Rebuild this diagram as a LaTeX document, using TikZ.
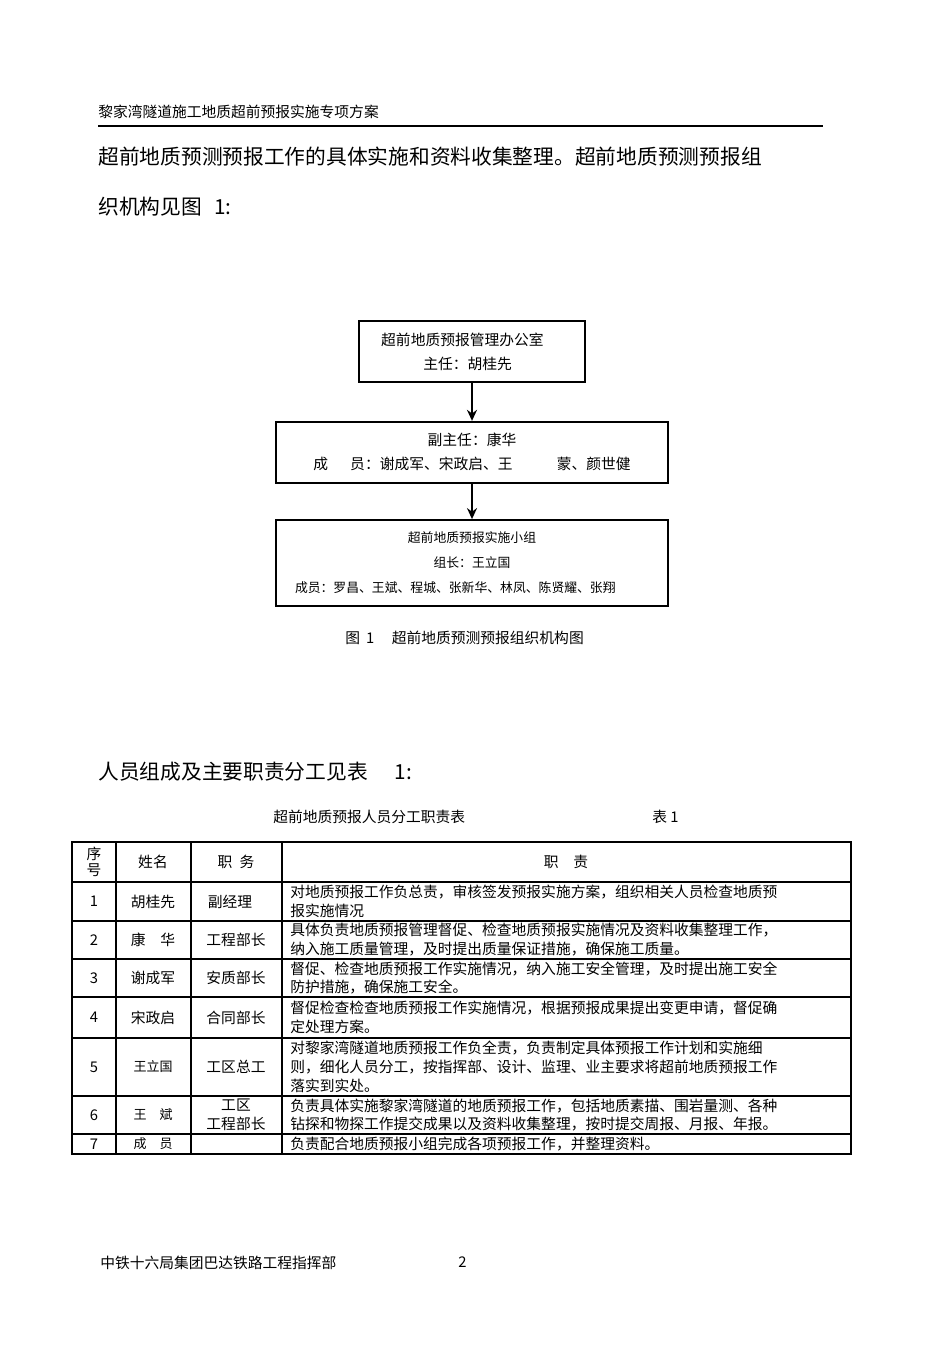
\documentclass[tikz,border=0pt]{standalone}
\usepackage{fontspec}
\setmainfont{Noto Sans CJK SC}
\usetikzlibrary{positioning,arrows.meta}

\begin{document}
\begin{tikzpicture}[
        x=0.02cm, y=-0.02cm,
        node distance=0.76cm,
        box/.style={
            draw,
            line width=1pt,
            align=center,
            inner sep=0pt,
            minimum height=1.22cm
        },
        arr/.style={-{Stealth[length=2.2mm, width=2mm]}, line width=1.1pt},
        rule/.style={line width=0.6pt},
        txt/.style={inner sep=0pt, anchor=west},
        big/.style={font=\fontsize{11.8}{14}\selectfont},
        mid/.style={font=\fontsize{8.4}{13.6}\selectfont},
        sml/.style={font=\fontsize{7.3}{14.2}\selectfont},
        cell/.style={inner sep=0pt, align=center, font=\fontsize{8.4}{10.8}\selectfont},
        smallcell/.style={inner sep=0pt, align=center, font=\fontsize{7.4}{10.8}\selectfont},
        duty/.style={inner sep=0pt, anchor=west, align=left, font=\fontsize{8.4}{10.8}\selectfont}
    ]
        \useasboundingbox (0,0) rectangle (950,1345);

        % page header
        \node[txt, mid] (head) at (98,112) {黎家湾隧道施工地质超前预报实施专项方案};
        \draw[line width=0.7pt] (98,126) -- (823,126);
        \node[txt, big] (para1) at (98,157) {超前地质预测预报工作的具体实施和资料收集整理。超前地质预测预报组};
        \node[txt, big] (para2) at (98,207) {织机构见图\hspace{0.6em}1:};

        % organisation chart
        \node[box, mid, minimum width=4.52cm] (office) at (472,351.5) {超前地质预报管理办公室\kern1.3em\\主任：胡桂先\kern0.6em};
        \node[box, mid, minimum width=7.84cm, below=of office] (deputy) {副主任：康华\\成\hspace{1.5em}员：谢成军、宋政启、王\hspace{3em}蒙、颜世健};
        \node[box, sml, minimum width=7.84cm, minimum height=1.72cm, below=0.71cm of deputy] (team) {超前地质预报实施小组\\组长：王立国\\成员：罗昌、王斌、程城、张新华、林凤、陈贤耀、张翔\kern2.6em};
        \draw[arr] (office) -- (deputy);
        \draw[arr] (deputy) -- (team);
        \node[txt, mid] (fig) at (345,638) {图\hspace{0.4em}1\hspace{1.2em}超前地质预测预报组织机构图};

        % table
        \node[txt, big] (para3) at (98,772) {人员组成及主要职责分工见表\hspace{1.3em}1:};
        \node[txt, mid] (ttitle) at (273,817) {超前地质预报人员分工职责表};
        \node[txt, mid] (tno) at (652,817) {表 1};
        \draw[rule] (72,842) rectangle (851,1154);
        \foreach \y in {882,921,959,997,1038,1096,1134}
            \draw[rule] (72,\y) -- (851,\y);
        \foreach \x in {116,191,282}
            \draw[rule] (\x,842) -- (\x,1154);

        \node[cell] (hno) at (94,862) {序\\[-2pt]号};
        \node[cell] (hname) at (153,862) {姓名};
        \node[cell] (hpost) at (236,862) {职\hspace{0.5em}务};
        \node[cell] (hduty) at (566,862) {职\hspace{1em}责};

        \foreach \n/\y in {1/901.5,2/940,3/978,4/1017.5,5/1067,6/1115,7/1144}
            \node[cell] (no\n) at (94,\y) {\n};

        \node[cell] (name1) at (153,901.5) {胡桂先};
        \node[cell] (name2) at (153,940) {康\hspace{1em}华};
        \node[cell] (name3) at (153,978) {谢成军};
        \node[cell] (name4) at (153,1017.5) {宋政启};
        \node[smallcell] (name5) at (153,1067) {王立国};
        \node[smallcell] (name6) at (153,1115) {王\hspace{1em}斌};
        \node[smallcell] (name7) at (153,1144) {成\hspace{1em}员};

        \node[cell] (post1) at (230,901.5) {副经理};
        \node[cell] (post2) at (236,940) {工程部长};
        \node[cell] (post3) at (236,978) {安质部长};
        \node[cell] (post4) at (236,1017.5) {合同部长};
        \node[cell] (post5) at (236,1067) {工区总工};
        \node[cell] (post6) at (236,1115) {工区\\工程部长};

        \node[duty] (duty1) at (290,901.5) {对地质预报工作负总责，审核签发预报实施方案，组织相关人员检查地质预\\报实施情况};
        \node[duty] (duty2) at (290,940) {具体负责地质预报管理督促、检查地质预报实施情况及资料收集整理工作，\\纳入施工质量管理，及时提出质量保证措施，确保施工质量。};
        \node[duty] (duty3) at (290,978) {督促、检查地质预报工作实施情况，纳入施工安全管理，及时提出施工安全\\防护措施，确保施工安全。};
        \node[duty] (duty4) at (290,1017.5) {督促检查检查地质预报工作实施情况，根据预报成果提出变更申请，督促确\\定处理方案。};
        \node[duty] (duty5) at (290,1067) {对黎家湾隧道地质预报工作负全责，负责制定具体预报工作计划和实施细\\则，细化人员分工，按指挥部、设计、监理、业主要求将超前地质预报工作\\落实到实处。};
        \node[duty] (duty6) at (290,1115) {负责具体实施黎家湾隧道的地质预报工作，包括地质素描、围岩量测、各种\\钻探和物探工作提交成果以及资料收集整理，按时提交周报、月报、年报。};
        \node[duty] (duty7) at (290,1144) {负责配合地质预报小组完成各项预报工作，并整理资料。};

        % page footer
        \node[txt, mid] (foot) at (100,1263) {中铁十六局集团巴达铁路工程指挥部};
        \node[txt, mid] (page) at (458,1262) {2};
    \end{tikzpicture}
\end{document}
